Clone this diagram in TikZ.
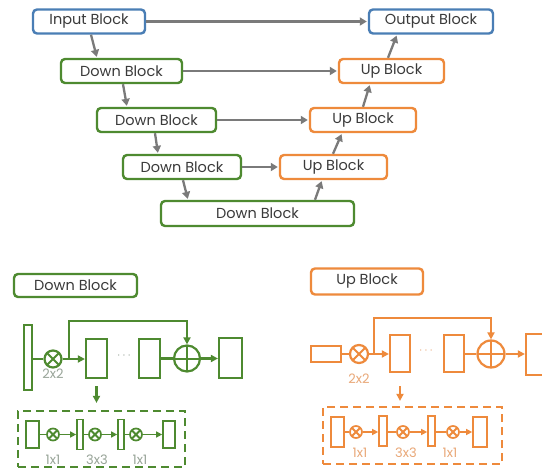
\documentclass[tikz,border=0pt]{standalone}
\usepackage{fontspec}
\setmainfont{Poppins}
\usetikzlibrary{arrows.meta,calc}
\definecolor{cblue}{HTML}{4A7EB5}
\definecolor{cgreen}{HTML}{4E8A30}
\definecolor{corange}{HTML}{EE8A3C}
\definecolor{cgray}{HTML}{7A7A7A}
\definecolor{ctext}{HTML}{3A3A3A}
\definecolor{lgreen}{HTML}{98A498}
\definecolor{lorange}{HTML}{E9A878}
\begin{document}
\begin{tikzpicture}[x=1pt,y=-1pt,
  blk/.style={draw=#1, line width=2.4pt, rounded corners=4pt, minimum height=24pt, inner sep=0pt, text=ctext, font=\fontsize{14.5}{16}\selectfont},
  garrow/.style={draw=cgray, line width=2.3pt, -{Triangle[length=7pt,width=8pt]}, shorten >=1pt},
  rect/.style={draw=#1, line width=2.2pt, inner sep=0pt},
  mul/.style={circle, draw=#1, line width=2.2pt, inner sep=0pt, path picture={\draw[#1, line width=2pt] (path picture bounding box.north west) -- (path picture bounding box.south east) (path picture bounding box.north east) -- (path picture bounding box.south west);}},
  add/.style={circle, draw=#1, line width=2.2pt, inner sep=0pt, path picture={\draw[#1, line width=2pt] (path picture bounding box.north) -- (path picture bounding box.south) (path picture bounding box.east) -- (path picture bounding box.west);}},
  carrow/.style={draw=#1, line width=2.2pt, -{Triangle[length=7pt,width=7pt]}},
  sarrow/.style={draw=#1, line width=1.7pt, -{Triangle[length=6pt,width=6pt]}},
  cline/.style={draw=#1, line width=2.2pt},
  sline/.style={draw=#1, line width=1.7pt},
  srect/.style={draw=#1, line width=1.7pt, inner sep=0pt},
  smul/.style={mul=#1, line width=1.7pt, minimum size=12pt},
  slab/.style={text=#1, font=\fontsize{13}{15}\selectfont, inner sep=0pt},
  dbox/.style={draw=#1, dash pattern=on 8pt off 5pt, line width=2.2pt, inner sep=0pt},
]
\useasboundingbox[fill=white] (0,0) rectangle (542,472);

% ---------- top U-Net ----------
\node[blk=cblue, minimum width=112pt] (in) at (89,21.5) {Input Block};
\node[blk=cblue, minimum width=124pt] (out) at (431,21.5) {Output Block};
\node[blk=cgreen, minimum width=121pt] (d1) at (121.5,71) {Down Block};
\node[blk=corange, minimum width=105pt] (u1) at (391.5,71) {Up Block};
\node[blk=cgreen, minimum width=119pt] (d2) at (156.5,120) {Down Block};
\node[blk=corange, minimum width=106pt] (u2) at (363,120) {Up Block};
\node[blk=cgreen, minimum width=118pt] (d3) at (182,167) {Down Block};
\node[blk=corange, minimum width=107pt] (u3) at (333.5,167) {Up Block};
\node[blk=cgreen, minimum width=193pt, minimum height=25pt] (d4) at (257.5,213.5) {Down Block};

\draw[garrow] (in.east) -- (out.west);
\draw[garrow] (d1.east) -- (u1.west);
\draw[garrow] (d2.east) -- (u2.west);
\draw[garrow] (d3.east) -- (u3.west);
\draw[garrow] ([xshift=2pt]in.south) -- ([xshift=-24.5pt]d1.north);
\draw[garrow] ([xshift=1.5pt]d1.south) -- ([xshift=-29.5pt]d2.north);
\draw[garrow] ([xshift=-1.5pt]d2.south) -- ([xshift=-24pt]d3.north);
\draw[garrow] ([xshift=1pt]d3.south) -- ([xshift=-69.5pt]d4.north);
\draw[garrow] ([xshift=57.5pt]d4.north) -- ([xshift=-11.5pt]u3.south);
\draw[garrow] ([xshift=-0.5pt]u3.north) -- ([xshift=-21pt]u2.south);
\draw[garrow] (u2.north) -- ([xshift=-21.5pt]u1.south);
\draw[garrow] ([xshift=-3.5pt]u1.north) -- ([xshift=-34pt]out.south);

% ---------- Down Block detail ----------
\node[blk=cgreen, minimum width=123pt, minimum height=23pt] (dl) at (75.5,285.5) {Down Block};
\node[rect=cgreen, minimum width=8pt, minimum height=65pt] (gbar) at (28,357.5) {};
\node[mul=cgreen, minimum size=17pt] (gm) at (53,359) {};
\node[slab=lgreen] (g22) at (53,374) {2x2};
\node[rect=cgreen, minimum width=21pt, minimum height=39pt] (gb2) at (96.5,358.5) {};
\node[text=lgreen, font=\fontsize{13}{15}\selectfont, inner sep=0pt] (gdots) at (124,356) {$\cdots$};
\node[rect=cgreen, minimum width=21pt, minimum height=39pt] (gb3) at (149.5,358.5) {};
\node[add=cgreen, minimum size=26pt] (ga) at (187,358.5) {};
\node[rect=cgreen, minimum width=23pt, minimum height=40pt] (gb4) at (230.5,358) {};
\coordinate (gs) at (69,359);
\draw[cline=cgreen] (gbar.east |- gm) -- (gm.west);
\draw[carrow=cgreen] (gm.east) -- (gb2.west |- gm);
\draw[carrow=cgreen] (gs) -- (69,321) -- (ga.north |- 0,321) -- (ga.north);
\draw[cline=cgreen] (gb3.east |- ga) -- (ga.west);
\draw[carrow=cgreen] (ga.east) -- (gb4.west |- ga);

\node[dbox=cgreen, minimum width=167pt, minimum height=56pt] (gd) at (101.5,439) {};
\draw[carrow=cgreen] ([yshift=-7pt]gb2.south) -- ([yshift=7pt]gb2.south |- gd.north);
\node[srect=cgreen, minimum width=13pt, minimum height=27pt] (gs1) at (32.5,434.5) {};
\node[smul=cgreen] (gm1) at (53,434.5) {};
\node[srect=cgreen, minimum width=6pt, minimum height=30pt] (gs2) at (80,434.5) {};
\node[smul=cgreen] (gm2) at (95,434.5) {};
\node[srect=cgreen, minimum width=6pt, minimum height=30pt] (gs3) at (121,434.5) {};
\node[smul=cgreen] (gm3) at (136,434.5) {};
\node[srect=cgreen, minimum width=12pt, minimum height=27pt] (gs4) at (169,434.5) {};
\draw[sline=cgreen] (gs1.east) -- (gm1.west);
\draw[sarrow=cgreen] (gm1.east) -- (gs2.west);
\draw[sline=cgreen] (gs2.east) -- (gm2.west);
\draw[sarrow=cgreen] (gm2.east) -- (gs3.west);
\draw[sline=cgreen] (gs3.east) -- (gm3.west);
\draw[sarrow=cgreen] (gm3.east) -- (gs4.west);
\node[slab=lgreen] (gl1) at (53,460) {1x1};
\node[slab=lgreen] (gl2) at (97,460) {3x3};
\node[slab=lgreen] (gl3) at (140,460) {1x1};

% ---------- Up Block detail ----------
\node[blk=corange, minimum width=112pt, minimum height=26pt] (ul) at (367,281.5) {Up Block};
\node[rect=corange, minimum width=30pt, minimum height=16pt] (obar) at (326,354) {};
\node[mul=corange, minimum size=18pt] (om) at (359,354) {};
\node[slab=lorange] (o22) at (359,379) {2x2};
\node[rect=corange, minimum width=20pt, minimum height=37pt] (ob2) at (400,353.5) {};
\node[text=lorange, font=\fontsize{13}{15}\selectfont, inner sep=0pt] (odots) at (426,351) {$\cdots$};
\node[rect=corange, minimum width=20pt, minimum height=37pt] (ob3) at (454,353.5) {};
\node[add=corange, minimum size=27pt] (oa) at (491,354) {};
\begin{scope}
\clip (0,0) rectangle (542,472);
\node[rect=corange, minimum width=26pt, minimum height=41pt] (ob4) at (539,354.5) {};
\end{scope}
\coordinate (os) at (374,354);
\draw[cline=corange] (obar.east) -- (om.west);
\draw[carrow=corange] (om.east) -- (ob2.west |- om);
\draw[carrow=corange] (os) -- (374,318) -- (oa.north |- 0,318) -- (oa.north);
\draw[cline=corange] (ob3.east |- oa) -- (oa.west);
\draw[carrow=corange] (oa.east) -- (ob4.west |- oa);

\node[dbox=corange, minimum width=179pt, minimum height=57pt] (od) at (412.5,435.5) {};
\draw[carrow=corange] ([yshift=-13pt]ob2.south) -- ([yshift=5pt]ob2.south |- od.north);
\node[srect=corange, minimum width=13pt, minimum height=30pt] (os1) at (337.5,432) {};
\node[smul=corange] (om1) at (356,432) {};
\node[srect=corange, minimum width=8pt, minimum height=30pt] (os2) at (383,431) {};
\node[smul=corange] (om2) at (403,432) {};
\node[srect=corange, minimum width=7pt, minimum height=30pt] (os3) at (431.5,431) {};
\node[smul=corange] (om3) at (453,432) {};
\node[srect=corange, minimum width=14pt, minimum height=30pt] (os4) at (480,432) {};
\draw[sline=corange] (os1.east) -- (om1.west);
\draw[sarrow=corange] (om1.east) -- (os2.west |- om1);
\draw[sline=corange] (os2.east |- om2) -- (om2.west);
\draw[sarrow=corange] (om2.east) -- (os3.west |- om2);
\draw[sline=corange] (os3.east |- om3) -- (om3.west);
\draw[sarrow=corange] (om3.east) -- (os4.west);
\node[slab=lorange] (ol1) at (360,453) {1x1};
\node[slab=lorange] (ol2) at (406,453) {3x3};
\node[slab=lorange] (ol3) at (450,453) {1x1};
\end{tikzpicture}
\end{document}
